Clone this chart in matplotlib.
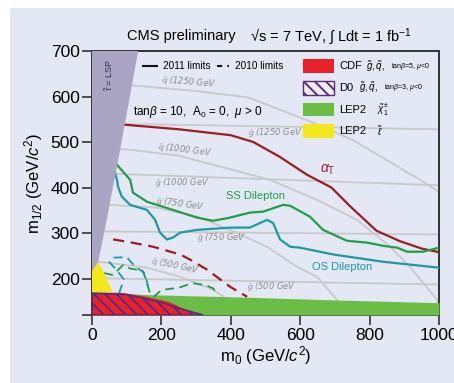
import matplotlib

matplotlib.use("Agg")
from matplotlib import pyplot as plt  # noqa: E402
from matplotlib.patches import Rectangle  # noqa: E402

plt.rcParams["font.family"] = ["Liberation Sans", "DejaVu Sans"]
plt.rcParams["mathtext.fontset"] = "custom"
plt.rcParams["mathtext.rm"] = "Liberation Sans"
plt.rcParams["mathtext.it"] = "Liberation Sans:italic"
plt.rcParams["hatch.linewidth"] = 1.4

BG = "#e4e7f4"

# --- data (m0, m1/2 in GeV) ---
lsp_m0 = [0, 133, 81, 40, 20, 8, 0]
lsp_m12 = [700, 700, 483, 320, 245, 215, 205]

squark_masses = [1250, 1000, 750, 500]
squark_m0 = [
    [0, 110, 300, 450, 542, 620, 750, 850, 945, 1000],
    [0, 110, 250, 400, 513, 648, 764, 859, 916, 994, 1010],
    [0, 52, 187, 303, 398, 504, 591, 648, 706, 740],
    [0, 43, 158, 254, 349, 398, 430],
]
squark_m12 = [
    [630, 625, 612, 598, 571, 548, 505, 460, 417, 390],
    [488, 483, 470, 440, 417, 373, 329, 270, 226, 154, 120],
    [364, 362, 356, 336, 307, 270, 226, 204, 154, 120],
    [238, 235, 224, 204, 176, 150, 120],
]
gluino_masses = [1250, 1000, 750, 500]
gluino_m0 = [0, 1000]
gluino_m12 = [[541, 528], [432, 405], [304, 297], [201, 187]]

alphat_m0 = [0, 95, 250, 400, 465, 540, 620, 690, 745, 820, 888, 950, 1000]
alphat_m12 = [540, 538, 528, 515, 500, 468, 428, 400, 358, 305, 282, 266, 258]

ss_m0 = [72, 110, 118, 158, 216, 303, 349, 398, 455, 493, 551, 571, 628, 666,
         735, 793, 839, 879, 908, 954, 1000]
ss_m12 = [450, 417, 389, 369, 355, 334, 327, 334, 345, 347, 362, 360, 336, 307,
          283, 279, 272, 268, 259, 259, 268]

os_m0 = [66, 72, 75, 86, 110, 158, 182, 196, 216, 233, 254, 303, 398, 455, 504,
         522, 542, 571, 599, 695, 839, 1000]
os_m12 = [433, 417, 402, 380, 362, 351, 329, 301, 286, 290, 301, 307, 312, 312, 329,
          322, 286, 270, 268, 253, 237, 224]

alphat10_m0 = [61, 101, 176, 254, 282, 331, 398, 447]
alphat10_m12 = [286, 281, 270, 253, 242, 220, 182, 160]

os10_m0 = [78, 92, 72, 50, 62, 100, 125, 150, 158, 162]
os10_m12 = [168, 198, 218, 236, 246, 247, 226, 213, 195, 180]

ss10_m0 = [35, 60, 90, 110, 145, 155, 165, 178, 200, 250, 290, 330, 350, 360]
ss10_m12 = [212, 208, 230, 222, 218, 200, 172, 160, 175, 180, 190, 185, 178, 165]

lep_chi_m0 = [0, 150, 450, 700, 1000]
lep_chi_top = [172, 165, 159, 153, 147]
cdf_m0 = [0, 80, 150, 220, 290, 300]
cdf_top = [170, 170, 162, 150, 125, 120]
d0_m0 = [0, 100, 200, 250, 320]
d0_top = [168, 165, 148, 135, 120]
lep_slep_m0 = [0, 0, 10, 18, 30, 45, 60]
lep_slep_m12 = [170, 215, 228, 235, 220, 195, 170]

x_ticks = [0, 200, 400, 600, 800, 1000]
y_ticks = [200, 300, 400, 500, 600, 700]

fig = plt.figure(figsize=(4.54, 3.83), dpi=100, facecolor="white")
fig.patches.append(Rectangle((10 / 454, 0), 1, 375 / 383, transform=fig.transFigure,
                             facecolor=BG, edgecolor="none", zorder=-10))
ax = fig.add_axes([92 / 454, 68 / 383, 347 / 454, 264 / 383])
ax.set_facecolor(BG)
ax.set_xlim(0, 1000)
ax.set_ylim(120, 700)

# iso-mass lines
grey = "#c9c9c9"
for m0, m12 in zip(squark_m0, squark_m12):
    ax.plot(m0, m12, color=grey, lw=1.3, zorder=1)
for m12 in gluino_m12:
    ax.plot(gluino_m0, m12, color=grey, lw=1.3, zorder=1)

lab = dict(color="#8e8e8e", fontsize=6, style="italic", zorder=2, family="DejaVu Sans",
           va="center")
ax.text(198, 632, r"$\tilde{q}$ (1250 GeV", rotation=-5, **lab)
ax.text(450, 522, r"$\tilde{g}$ (1250 GeV", **lab)
ax.text(187, 482, r"$\tilde{q}$ (1000 GeV", rotation=-7, **lab)
ax.text(182, 411, r"$\tilde{g}$ (1000 GeV", **lab)
ax.text(182, 364, r"$\tilde{q}$ (750 GeV", rotation=-8, **lab)
ax.text(303, 291, r"$\tilde{g}$ (750 GeV", **lab)
ax.text(167, 229, r"$\tilde{q}$ (500 GeV", rotation=-12, **lab)
ax.text(447, 182, r"$\tilde{g}$ (500 GeV", **lab)

# excluded regions
ax.fill_between(lep_chi_m0, 120, lep_chi_top, color="#6bbd45", lw=0, zorder=3)
ax.fill_between(cdf_m0, 120, cdf_top, color="#e8212a", lw=0, zorder=4)
ax.fill_between(d0_m0, 120, d0_top, facecolor="none", edgecolor="#5a2a7d",
                hatch="\\\\\\", lw=1.2, zorder=5)
ax.fill(lsp_m0, lsp_m12, color="#a9a5c2", lw=0, zorder=7)
ax.fill(lep_slep_m0, lep_slep_m12, color="#f3e81b", lw=0, zorder=8)

# limits
dash = (0, (5, 3))
ax.plot(alphat_m0, alphat_m12, color="#9c1c22", lw=1.6, zorder=6)
ax.plot(ss_m0, ss_m12, color="#1f9e48", lw=1.6, zorder=6)
ax.plot(os_m0, os_m12, color="#1d9aa3", lw=1.6, zorder=6)
ax.plot(alphat10_m0, alphat10_m12, color="#9c1c22", lw=1.6, ls=dash, zorder=6)
ax.plot(ss10_m0, ss10_m12, color="#1f9e48", lw=1.3, ls=dash, zorder=6)
ax.plot(os10_m0, os10_m12, color="#1d9aa3", lw=1.3, ls=dash, zorder=6)

ax.text(680, 439, r"$\alpha_\mathrm{T}$", color="#9c1c22", fontsize=10, ha="center", va="center")
ax.text(470, 382, "SS Dilepton", color="#1f9e48", fontsize=8, ha="center", va="center")
ax.text(720, 226, "OS Dilepton", color="#1d9aa3", fontsize=8, ha="center", va="center")
ax.text(118, 566, r"tan$\beta$ = 10,  A$_0$ = 0,  $\mu$ > 0", fontsize=8.5, va="center")
ax.text(0.05, 0.91, r"$\tilde{\tau}$ = LSP", transform=ax.transAxes, rotation=90,
        fontsize=6.5, color="#333333", ha="center", va="center", zorder=9)

# line-style key
ax.plot([0.147, 0.187], [0.942, 0.942], transform=ax.transAxes, color="#111111", lw=1.5)
ax.text(0.205, 0.942, "2011 limits", transform=ax.transAxes, fontsize=7.2, va="center")
ax.plot([0.36, 0.395], [0.942, 0.942], transform=ax.transAxes, color="#111111", lw=1.5,
        ls=(0, (2.5, 2.5)))
ax.text(0.412, 0.942, "2010 limits", transform=ax.transAxes, fontsize=7.2, va="center")

# region key
rows = [0.943, 0.860, 0.777, 0.697]
box = dict(transform=ax.transAxes, zorder=10)
ax.add_patch(Rectangle((0.608, rows[0] - 0.025), 0.089, 0.05, facecolor="#e8212a", lw=0, **box))
ax.add_patch(Rectangle((0.608, rows[1] - 0.025), 0.089, 0.05, facecolor="#f2eef6",
                       edgecolor="#5a2a7d", hatch="\\\\\\", lw=1, **box))
ax.add_patch(Rectangle((0.608, rows[2] - 0.025), 0.089, 0.05, facecolor="#6bbd45", lw=0, **box))
ax.add_patch(Rectangle((0.608, rows[3] - 0.025), 0.089, 0.05, facecolor="#f3e81b", lw=0, **box))
kt = dict(transform=ax.transAxes, va="center", fontsize=8)
ax.text(0.712, rows[0], "CDF", **kt)
ax.text(0.712, rows[1], "D0", **kt)
ax.text(0.712, rows[2], "LEP2", **kt)
ax.text(0.712, rows[3], "LEP2", **kt)
sm = dict(transform=ax.transAxes, va="center")
ax.text(0.79, rows[0], r"$\tilde{g}, \tilde{q}$,", fontsize=7, **sm)
ax.text(0.862, rows[0], r"tan$\beta$=5, $\mu$<0", fontsize=5, **sm)
ax.text(0.77, rows[1], r"$\tilde{g}, \tilde{q}$,", fontsize=7, **sm)
ax.text(0.842, rows[1], r"tan$\beta$=3, $\mu$<0", fontsize=5, **sm)
ax.text(0.82, rows[2], r"$\tilde{\chi}^{\pm}_{1}$", fontsize=7, **sm)
ax.text(0.82, rows[3], r"$\tilde{\ell}$", fontsize=7, **sm)

ax.set_xticks(x_ticks)
ax.set_yticks([120] + y_ticks)
ax.set_yticklabels([""] + [str(v) for v in y_ticks])
ax.tick_params(direction="out", length=7, width=1.2, labelsize=12.5, color="#333333", pad=2)
for s in ax.spines.values():
    s.set_linewidth(1.4)
    s.set_color("#333333")
ax.set_xlabel(r"m$_0$ (GeV/$c^2$)", fontsize=12, labelpad=1)
ax.set_ylabel(r"m$_{1/2}$ (GeV/$c^2$)", fontsize=12, labelpad=4)
fig.text(127 / 454, 0.905, "CMS preliminary", fontsize=10.5, va="center")
fig.text(250 / 454, 0.905, "\u221as = 7 TeV, \u222b Ldt = 1 fb$^{-1}$",
         fontsize=10.5, va="center")

fig.savefig("out.png", dpi=100, facecolor="white")
